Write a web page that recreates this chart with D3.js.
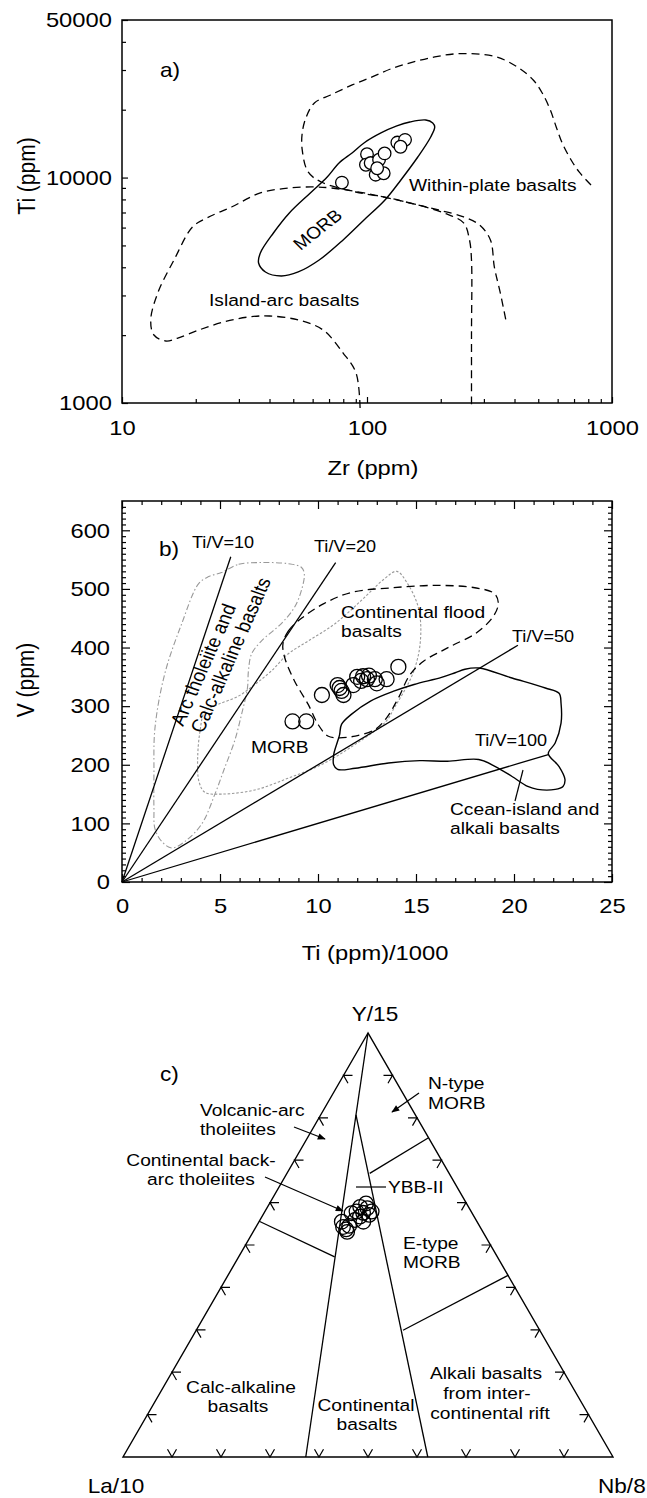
<!DOCTYPE html>
<html>
<head>
<meta charset="utf-8">
<script src="https://cdn.jsdelivr.net/npm/d3@7"></script>
<style>
  body { margin: 0; background: #fff; }
  svg { display: block; font-family: "Liberation Sans", Arial, Helvetica, sans-serif; }
</style>
</head>
<body>
<svg width="647" height="1498"></svg>
<script>
// ---------- data: a) Zr - Ti ----------
const zrTicks = [10, 100, 1000];
const zrMinor = [20, 30, 40, 50, 60, 70, 80, 90, 200, 300, 400, 500, 600, 700, 800, 900];
const tiTicks = [1000, 10000, 50000];
const tiMinor = [2000, 3000, 4000, 5000, 6000, 7000, 8000, 9000, 20000, 30000, 40000];

const zrSample = [79, 100, 99, 103.5, 112, 118, 108.5, 117, 133, 143, 137, 110];
const tiSample = [9500, 12700, 11400, 11600, 12000, 12800, 10300, 10450, 14300, 14700, 13700, 11000];

const wpZr = [821, 734, 681, 626, 592, 560, 519, 477, 411, 338, 277, 228, 189, 155, 128, 105, 87, 71, 61, 56.5, 54.4, 54.4, 57.5, 65, 90, 123, 155, 196, 248, 288, 319, 331, 350, 371];
const wpTi = [9270, 10590, 11970, 14240, 16770, 19950, 23730, 27100, 30950, 34290, 35360, 35360, 34290, 32580, 30640, 27950, 25750, 23250, 21430, 18570, 15770, 13260, 10590, 9560, 8630, 8120, 7640, 7180, 6690, 6160, 5290, 4010, 3080, 2260];

const iaZr = [93.7, 90.2, 79.9, 66.2, 52.4, 40.0, 32.8, 26.0, 20.6, 16.9, 15.1, 13.5, 13.1, 14.0, 16.3, 19.4, 22.2, 28.0, 36.7, 48.2, 60.9, 71.4, 97.2, 132.4, 167.3, 211.4, 248, 262, 267, 267, 267];
const iaTi = [950, 1359, 1666, 2108, 2335, 2432, 2407, 2288, 2108, 1942, 1884, 2003, 2335, 3080, 4308, 6036, 6620, 7405, 8545, 8992, 9084, 8992, 8545, 7954, 7482, 6895, 6291, 5290, 4308, 2000, 950];

const morbZr = [185.5, 173.7, 149.6, 132.4, 114.0, 97.2, 86.9, 76.9, 68.8, 58.7, 48.2, 41.5, 36.7, 36.1, 38.5, 44.7, 52.4, 63.8, 79.9, 97.2, 118.4, 137.5, 161.2, 182.0, 189];
const morbTi = [17470, 18010, 17640, 16940, 15770, 14240, 12860, 11610, 10060, 8545, 6966, 5678, 4629, 4179, 3813, 3660, 3813, 4308, 5290, 6484, 7954, 9759, 12340, 15140, 16770];

// ---------- data: b) Ti/1000 - V ----------
const tiBTicks = [0, 5, 10, 15, 20, 25];
const vTicks = [0, 100, 200, 300, 400, 500, 600];

const tiB = [8.7, 9.4, 10.2, 11.0, 11.1, 11.2, 11.3, 11.8, 12.0, 12.3, 12.2, 12.5, 12.6, 12.9, 13.0, 13.5, 14.1];
const vB = [274, 274, 319, 336, 331, 326, 319, 336, 350, 351, 343, 346, 352, 346, 339, 346, 367];

const tiVRatio = [10, 20, 50, 100];
const tiVEnd = [5.55, 10.9, 20.2, 21.75];

const arcTi = [5.08, 5.95, 7.11, 8.49, 9.15, 9.30, 9.15, 8.79, 8.13, 7.11, 6.61, 6.45, 6.40, 6.10, 5.74, 5.23, 4.73, 4.07, 3.20, 2.54, 2.03, 1.68, 1.63, 1.63, 1.68, 2.18, 3.05, 3.91, 4.42];
const arcV = [528, 542, 545, 543, 537, 526, 497, 468, 441, 411, 389, 360, 331, 286, 240, 194, 149, 99, 69, 58, 69, 91, 125, 183, 262, 355, 441, 509, 521];

const morbBTi = [14.02, 14.57, 15.07, 15.24, 15.16, 14.82, 14.40, 13.89, 13.47, 11.86, 10.16, 8.47, 6.78, 5.08, 4.23, 3.93, 3.86, 3.98, 4.23, 4.91, 5.93, 6.78, 7.62, 8.47, 9.49, 10.84, 12.20, 13.38];
const morbBV = [530, 509, 474, 440, 394, 354, 326, 297, 274, 234, 200, 177, 157, 150, 153, 171, 211, 257, 291, 303, 317, 337, 360, 389, 411, 440, 480, 517];

const cfbTi = [8.21, 8.5, 9.2, 10.3, 11.7, 13.8, 16.0, 18.0, 19.0, 19.2, 18.9, 18.0, 17.0, 16.3, 15.4, 14.7, 14.1, 13.5, 12.9, 11.9, 11.0, 10.5, 10.0, 9.5, 8.8, 8.3];
const cfbV = [406, 429, 451, 475, 494, 502, 506, 502, 492, 475, 451, 423, 406, 394, 377, 354, 314, 280, 260, 249, 246, 249, 269, 303, 343, 383];

const oibTi = [17.5, 18.2, 19.9, 21.6, 22.3, 22.4, 22.4, 22.1, 21.75, 22.3, 22.6, 22.5, 22.1, 21.2, 20.7, 19.9, 19.05, 18.2, 16.6, 15.2, 13.6, 11.9, 11.0, 10.8, 10.8, 11.0, 11.1, 11.2, 11.7, 12.7, 13.9, 14.9, 16.3, 17.0];
const oibV = [363, 365, 348, 331, 322, 305, 271, 237, 219, 197, 175, 163, 158, 158, 163, 180, 197, 209, 206, 207, 203, 194, 192, 200, 217, 240, 251, 269, 286, 309, 326, 337, 349, 357];

// ---------- data: c) Y/15 - La/10 - Nb/8 ----------
const ternTicks = [0.1, 0.2, 0.3, 0.4, 0.5, 0.6, 0.7, 0.8, 0.9];
const yC = [0.555, 0.537, 0.545, 0.559, 0.567, 0.576, 0.587, 0.598, 0.590, 0.579, 0.575, 0.571, 0.555, 0.531, 0.543, 0.579];
const laC = [0.276, 0.276, 0.266, 0.247, 0.233, 0.222, 0.208, 0.205, 0.221, 0.234, 0.246, 0.212, 0.232, 0.277, 0.280, 0.203];
const nbC = [0.169, 0.187, 0.189, 0.194, 0.200, 0.202, 0.205, 0.197, 0.189, 0.187, 0.179, 0.217, 0.213, 0.192, 0.178, 0.218];

// field boundaries as [Y, La, Nb] end points
const ternLines = [
  [[1, 0, 0], [0, 0.627, 0.373]],
  [[0.807, 0.121, 0.072], [0, 0.378, 0.622]],
  [[0.753, 0, 0.247], [0.669, 0.162, 0.169]],
  [[0.4285, 0, 0.5715], [0.299, 0.279, 0.422]],
  [[0.556, 0.444, 0], [0.472, 0.332, 0.196]]
];

// ---------- drawing ----------
const SX = 1.13; // the original figure is a little wider than tall
const svg = d3.select("svg");
svg.append("rect").attr("width", 647).attr("height", 1498).attr("fill", "#fff");

const defs = svg.append("defs");
defs.append("marker")
  .attr("id", "arrow")
  .attr("viewBox", "0 0 10 10")
  .attr("refX", 9).attr("refY", 5)
  .attr("markerWidth", 9).attr("markerHeight", 8)
  .attr("markerUnits", "userSpaceOnUse")
  .attr("orient", "auto")
  .append("path").attr("d", "M0,1 L10,5 L0,9 Z").attr("fill", "#000");

function label(g, x, y, s, o = {}) {
  let tr = `translate(${x},${y}) scale(${SX},1)`;
  if (o.rotate) tr += ` rotate(${o.rotate})`;
  return g.append("text")
    .attr("transform", tr)
    .attr("text-anchor", o.anchor || "start")
    .attr("font-size", o.size || 17)
    .attr("fill", "#000")
    .text(s);
}
// rotation that looks like `deg` after the horizontal stretch
function skewAngle(deg) {
  const r = (deg * Math.PI) / 180;
  return (Math.atan(Math.tan(r) * SX) * 180) / Math.PI;
}
function styleAxis(g, size) {
  g.attr("font-family", null).attr("font-size", size);
  g.select(".domain").remove();
  g.selectAll("line").attr("stroke", "#000").attr("stroke-width", 1.2);
  g.selectAll("text").attr("fill", "#000").attr("transform", `scale(${SX},1)`);
}
const zip = (a, b) => a.map((d, i) => [d, b[i]]);

// ===== a) =====
const xa = d3.scaleLog().domain([10, 1000]).range([122, 612]);
const ya = d3.scaleLog().domain([1000, 50000]).range([403, 20]);
const ga = svg.append("g").attr("id", "panelA");

ga.append("g").attr("transform", "translate(122,0)")
  .call(d3.axisLeft(ya).tickValues(tiTicks).tickFormat(d3.format("d")).tickSizeInner(-6).tickSizeOuter(0).tickPadding(9))
  .call((g) => styleAxis(g, 21));
ga.append("g").attr("transform", "translate(122,0)")
  .call(d3.axisLeft(ya).tickValues(tiMinor).tickFormat("").tickSizeInner(-4).tickSizeOuter(0))
  .call((g) => styleAxis(g, 21));
ga.append("g").attr("transform", "translate(0,403)")
  .call(d3.axisBottom(xa).tickValues(zrTicks).tickFormat(d3.format("d")).tickSizeInner(-6).tickSizeOuter(0).tickPadding(17))
  .call((g) => styleAxis(g, 21));
ga.append("g").attr("transform", "translate(0,403)")
  .call(d3.axisBottom(xa).tickValues(zrMinor).tickFormat("").tickSizeInner(-4).tickSizeOuter(0))
  .call((g) => styleAxis(g, 21));

const lineA = d3.line().x((d) => xa(d[0])).y((d) => ya(d[1]));
ga.append("path").datum(zip(wpZr, wpTi))
  .attr("d", lineA.curve(d3.curveCatmullRom.alpha(0.5)))
  .attr("fill", "none").attr("stroke", "#000").attr("stroke-width", 1.3).attr("stroke-dasharray", "8,5");
ga.append("path").datum(zip(iaZr, iaTi))
  .attr("d", lineA.curve(d3.curveCatmullRom.alpha(0.5)))
  .attr("fill", "none").attr("stroke", "#000").attr("stroke-width", 1.3).attr("stroke-dasharray", "8,5");
ga.append("path").datum(zip(morbZr, morbTi))
  .attr("d", lineA.curve(d3.curveCatmullRomClosed.alpha(0.5)))
  .attr("fill", "none").attr("stroke", "#000").attr("stroke-width", 1.4);

ga.append("rect").attr("x", 122).attr("y", 20).attr("width", 490).attr("height", 383)
  .attr("fill", "none").attr("stroke", "#000").attr("stroke-width", 1.5);

ga.selectAll("circle").data(zip(zrSample, tiSample)).enter().append("circle")
  .attr("cx", (d) => xa(d[0])).attr("cy", (d) => ya(d[1])).attr("r", 6.3)
  .attr("fill", "#fff").attr("stroke", "#000").attr("stroke-width", 1.3);

label(ga, 160, 77, "a)", { size: 20 });
label(ga, 409, 191, "Within-plate basalts");
label(ga, 209, 306, "Island-arc basalts");
label(ga, 322, 234, "MORB", { anchor: "middle", rotate: -skewAngle(38.4) });
label(ga, 35, 176, "Ti (ppm)", { anchor: "middle", size: 21, rotate: -90 });
label(ga, 373, 475, "Zr (ppm)", { anchor: "middle", size: 21 });

// ===== b) =====
const xb = d3.scaleLinear().domain([0, 25]).range([122, 612]);
const yb = d3.scaleLinear().domain([0, 650]).range([882, 501]);
const gb = svg.append("g").attr("id", "panelB");
const vMinor = d3.range(10, 650, 10).filter((v) => v % 100 !== 0);
const tiMinorB = d3.range(1, 25, 1).filter((v) => v % 5 !== 0);

gb.append("g").attr("transform", "translate(122,0)")
  .call(d3.axisLeft(yb).tickValues(vTicks).tickSizeInner(-8).tickSizeOuter(0).tickPadding(10.6))
  .call((g) => styleAxis(g, 21));
gb.append("g").attr("transform", "translate(122,0)")
  .call(d3.axisLeft(yb).tickValues(vMinor).tickFormat("").tickSizeInner(-4).tickSizeOuter(0))
  .call((g) => styleAxis(g, 21));
gb.append("g").attr("transform", "translate(612,0)")
  .call(d3.axisRight(yb).tickValues(vTicks).tickFormat("").tickSizeInner(-8).tickSizeOuter(0))
  .call((g) => styleAxis(g, 21));
gb.append("g").attr("transform", "translate(612,0)")
  .call(d3.axisRight(yb).tickValues(vMinor).tickFormat("").tickSizeInner(-4).tickSizeOuter(0))
  .call((g) => styleAxis(g, 21));
gb.append("g").attr("transform", "translate(0,882)")
  .call(d3.axisBottom(xb).tickValues(tiBTicks).tickSizeInner(-8).tickSizeOuter(0).tickPadding(16))
  .call((g) => styleAxis(g, 21));
gb.append("g").attr("transform", "translate(0,882)")
  .call(d3.axisBottom(xb).tickValues(tiMinorB).tickFormat("").tickSizeInner(-4).tickSizeOuter(0))
  .call((g) => styleAxis(g, 21));
gb.append("g").attr("transform", "translate(0,501)")
  .call(d3.axisTop(xb).tickValues(tiBTicks).tickFormat("").tickSizeInner(-8).tickSizeOuter(0))
  .call((g) => styleAxis(g, 21));
gb.append("g").attr("transform", "translate(0,501)")
  .call(d3.axisTop(xb).tickValues(tiMinorB).tickFormat("").tickSizeInner(-4).tickSizeOuter(0))
  .call((g) => styleAxis(g, 21));

const lineB = d3.line().x((d) => xb(d[0])).y((d) => yb(d[1])).curve(d3.curveCatmullRomClosed.alpha(0.5));
gb.append("path").datum(zip(arcTi, arcV)).attr("d", lineB)
  .attr("fill", "none").attr("stroke", "#999").attr("stroke-width", 1.1).attr("stroke-dasharray", "6,2.5,1.5,2.5");
gb.append("path").datum(zip(morbBTi, morbBV)).attr("d", lineB)
  .attr("fill", "none").attr("stroke", "#999").attr("stroke-width", 1.1).attr("stroke-dasharray", "2.5,1.8");
gb.append("path").datum(zip(cfbTi, cfbV)).attr("d", lineB)
  .attr("fill", "none").attr("stroke", "#000").attr("stroke-width", 1.3).attr("stroke-dasharray", "8,5");
gb.append("path").datum(zip(oibTi, oibV)).attr("d", lineB)
  .attr("fill", "none").attr("stroke", "#000").attr("stroke-width", 1.4);

gb.selectAll("line.ratio").data(tiVRatio.map((r, i) => ({ r, end: tiVEnd[i] }))).enter()
  .append("line").attr("class", "ratio")
  .attr("x1", xb(0)).attr("y1", yb(0))
  .attr("x2", (d) => xb(d.end)).attr("y2", (d) => yb((d.end * 1000) / d.r))
  .attr("stroke", "#000").attr("stroke-width", 1.3);

gb.append("rect").attr("x", 122).attr("y", 501).attr("width", 490).attr("height", 381)
  .attr("fill", "none").attr("stroke", "#000").attr("stroke-width", 1.5);

gb.selectAll("circle").data(zip(tiB, vB)).enter().append("circle")
  .attr("cx", (d) => xb(d[0])).attr("cy", (d) => yb(d[1])).attr("r", 7.5)
  .attr("fill", "none").attr("stroke", "#000").attr("stroke-width", 1.3);

gb.append("line").attr("x1", 523).attr("y1", 770).attr("x2", 515).attr("y2", 801)
  .attr("stroke", "#000").attr("stroke-width", 1.2);

label(gb, 159, 556, "b)", { size: 20 });
label(gb, 192, 548, "Ti/V=10", { size: 16 });
label(gb, 314, 552, "Ti/V=20", { size: 16 });
label(gb, 512, 642, "Ti/V=50", { size: 16 });
label(gb, 475, 746, "Ti/V=100", { size: 16 });
label(gb, 341, 618, "Continental flood");
label(gb, 341, 637, "basalts");
label(gb, 251, 753, "MORB");
label(gb, 450, 815, "Ccean-island and");
label(gb, 450, 834, "alkali basalts");
label(gb, 183, 727, "Arc tholeiite and", { size: 18, rotate: -skewAngle(66) });
label(gb, 203, 734, "Calc-alkaline basalts", { size: 18, rotate: -skewAngle(66) });
label(gb, 34, 680, "V (ppm)", { anchor: "middle", size: 21, rotate: -90 });
label(gb, 375, 960, "Ti (ppm)/1000", { anchor: "middle", size: 21 });

// ===== c) =====
const tx = d3.scaleLinear().domain([0, 1]).range([123, 613]);
const ty = d3.scaleLinear().domain([0, 1]).range([1457, 1033]);
function tern(y, la, nb) {
  const s = y + la + nb;
  return [tx((nb + y / 2) / s), ty(y / s)];
}
const gc = svg.append("g").attr("id", "panelC");
const A = tern(1, 0, 0), L = tern(0, 1, 0), R = tern(0, 0, 1);
function unit(p, q) {
  const dx = q[0] - p[0], dy = q[1] - p[1], n = Math.hypot(dx, dy);
  return [dx / n, dy / n];
}
const dAR = unit(A, R), dAL = unit(A, L), dLA = unit(L, A), dRA = unit(R, A);

gc.append("path").attr("d", d3.line()([A, L, R]) + "Z")
  .attr("fill", "none").attr("stroke", "#000").attr("stroke-width", 1.4);

gc.selectAll("line.field").data(ternLines).enter().append("line").attr("class", "field")
  .attr("x1", (d) => tern(...d[0])[0]).attr("y1", (d) => tern(...d[0])[1])
  .attr("x2", (d) => tern(...d[1])[0]).attr("y2", (d) => tern(...d[1])[1])
  .attr("stroke", "#000").attr("stroke-width", 1.3);

const chev = [];
ternTicks.forEach((t) => {
  chev.push({ p: tern(1 - t, t, 0), a: [1, 0], b: dAR });
  chev.push({ p: tern(1 - t, 0, t), a: [-1, 0], b: dAL });
  chev.push({ p: tern(0, 1 - t, t), a: dRA, b: dLA });
});
const cl = 9;
gc.selectAll("path.chev").data(chev).enter().append("path").attr("class", "chev")
  .attr("d", (d) => `M${d.p[0] + d.a[0] * cl},${d.p[1] + d.a[1] * cl}L${d.p[0]},${d.p[1]}L${d.p[0] + d.b[0] * cl},${d.p[1] + d.b[1] * cl}`)
  .attr("fill", "none").attr("stroke", "#000").attr("stroke-width", 1.2);

gc.selectAll("circle").data(yC.map((y, i) => tern(y, laC[i], nbC[i]))).enter().append("circle")
  .attr("cx", (d) => d[0]).attr("cy", (d) => d[1]).attr("r", 7.3)
  .attr("fill", "none").attr("stroke", "#000").attr("stroke-width", 1.3);

const arrows = [
  [419, 1093, 392, 1112],
  [294, 1127, 325, 1139],
  [265, 1177, 343, 1211]
];
gc.selectAll("line.arrow").data(arrows).enter().append("line").attr("class", "arrow")
  .attr("x1", (d) => d[0]).attr("y1", (d) => d[1]).attr("x2", (d) => d[2]).attr("y2", (d) => d[3])
  .attr("stroke", "#000").attr("stroke-width", 1.3).attr("marker-end", "url(#arrow)");
gc.append("line").attr("x1", 356).attr("y1", 1187).attr("x2", 386).attr("y2", 1187)
  .attr("stroke", "#000").attr("stroke-width", 1.2);

label(gc, 375, 1021, "Y/15", { anchor: "middle", size: 20 });
label(gc, 116, 1493, "La/10", { anchor: "middle", size: 20 });
label(gc, 598, 1493, "Nb/8", { size: 20 });
label(gc, 160, 1081, "c)", { size: 20 });
label(gc, 428, 1089, "N-type");
label(gc, 428, 1109, "MORB");
label(gc, 200, 1116, "Volcanic-arc");
label(gc, 200, 1135, "tholeiites");
label(gc, 201, 1166, "Continental back-", { anchor: "middle" });
label(gc, 201, 1185, "arc tholeiites", { anchor: "middle" });
label(gc, 388, 1193, "YBB-II");
label(gc, 403, 1249, "E-type");
label(gc, 403, 1268, "MORB");
label(gc, 241, 1393, "Calc-alkaline", { anchor: "middle" });
label(gc, 238, 1412, "basalts", { anchor: "middle" });
label(gc, 366, 1411, "Continental", { anchor: "middle" });
label(gc, 367, 1430, "basalts", { anchor: "middle" });
label(gc, 486, 1379, "Alkali basalts", { anchor: "middle" });
label(gc, 487, 1399, "from inter-", { anchor: "middle" });
label(gc, 490, 1419, "continental rift", { anchor: "middle" });
</script>
</body>
</html>
